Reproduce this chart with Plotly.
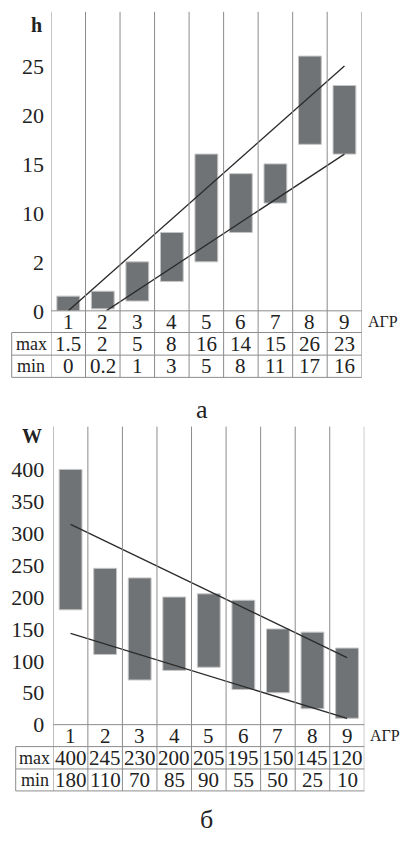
import plotly.graph_objects as go

# ---------------- data ----------------
groups = [1, 2, 3, 4, 5, 6, 7, 8, 9]
group_labels = ["1", "2", "3", "4", "5", "6", "7", "8", "9"]

h_max = [1.5, 2, 5, 8, 16, 14, 15, 26, 23]
h_min = [0, 0.2, 1, 3, 5, 8, 11, 17, 16]
h_max_txt = ["1.5", "2", "5", "8", "16", "14", "15", "26", "23"]
h_min_txt = ["0", "0.2", "1", "3", "5", "8", "11", "17", "16"]
h_tickvals = [0, 5, 10, 15, 20, 25]
h_ticktext = ["0", "2", "10", "15", "20", "25"]
h_trend_upper_x = [1, 9]
h_trend_upper_y = [0, 25]
h_trend_lower_x = [2.1, 9]
h_trend_lower_y = [0, 16]

w_max = [400, 245, 230, 200, 205, 195, 150, 145, 120]
w_min = [180, 110, 70, 85, 90, 55, 50, 25, 10]
w_tickvals = [0, 50, 100, 150, 200, 250, 300, 350, 400]
w_ticktext = ["0", "50", "100", "150", "200", "250", "300", "350", "400"]
w_trend_upper_x = [1, 9]
w_trend_upper_y = [314, 105]
w_trend_lower_x = [1, 9]
w_trend_lower_y = [143, 10]

# ---------------- layout helpers ----------------
W, H = 403, 843
def px(x):
    return x / W
def py(y):
    return 1 - y / H

SERIF = "Liberation Serif"
TXT = "#222222"
GRID = "#8c8c8c"
BAR = "#707375"
BAR_EDGE = "#c4c4c4"

fig = go.Figure()

fig.add_trace(go.Bar(x=groups, y=[a - b for a, b in zip(h_max, h_min)], base=h_min,
                     width=0.66, marker=dict(color=BAR, line=dict(color=BAR_EDGE, width=1)),
                     xaxis="x", yaxis="y", showlegend=False, hoverinfo="skip"))
fig.add_trace(go.Bar(x=groups, y=[a - b for a, b in zip(w_max, w_min)], base=w_min,
                     width=0.66, marker=dict(color=BAR, line=dict(color=BAR_EDGE, width=1)),
                     xaxis="x2", yaxis="y2", showlegend=False, hoverinfo="skip"))

for xs, ys, xa, ya in [(h_trend_upper_x, h_trend_upper_y, "x", "y"),
                       (h_trend_lower_x, h_trend_lower_y, "x", "y"),
                       (w_trend_upper_x, w_trend_upper_y, "x2", "y2"),
                       (w_trend_lower_x, w_trend_lower_y, "x2", "y2")]:
    fig.add_trace(go.Scatter(x=xs, y=ys, mode="lines", line=dict(color="#2a2a2a", width=1.3),
                             xaxis=xa, yaxis=ya, showlegend=False, hoverinfo="skip"))

panels = [
    dict(xa="x", ya="y", left=51, right=361.7, top=12, rows=[315.7, 337.7, 360.7, 383.3],
         tab_left=11.7, maxt=h_max_txt, mint=h_min_txt, label="h", label_xy=(36, 25),
         caption="а", cap_xy=(202, 416)),
    dict(xa="x2", ya="y2", left=53.3, right=364.3, top=433.3, rows=[736, 758.3, 781, 803.3],
         tab_left=15.7, maxt=[str(v) for v in w_max], mint=[str(v) for v in w_min], label="W",
         label_xy=(32, 443), caption="б", cap_xy=(207, 832)),
]

shapes = []
annotations = []
for p in panels:
    rows = p["rows"]
    xd1 = px(p["right"])
    for k in range(len(groups) + 1):
        xv = groups[0] - 0.5 + k
        shapes.append(dict(type="line", xref=p["xa"], yref="paper", x0=xv, x1=xv,
                           y0=py(p["top"]), y1=py(rows[3]), line=dict(color=GRID, width=1)))
    shapes.append(dict(type="line", xref="paper", yref="paper", x0=px(p["left"]), x1=xd1,
                       y0=py(rows[0]), y1=py(rows[0]), line=dict(color=GRID, width=1)))
    for r in rows[1:]:
        shapes.append(dict(type="line", xref="paper", yref="paper", x0=px(p["tab_left"]), x1=xd1,
                           y0=py(r), y1=py(r), line=dict(color=GRID, width=1)))
    shapes.append(dict(type="line", xref="paper", yref="paper", x0=px(p["tab_left"]), x1=px(p["tab_left"]),
                       y0=py(rows[1]), y1=py(rows[3]), line=dict(color=GRID, width=1)))
    yc = [py((rows[i] + rows[i + 1]) / 2) for i in range(3)]
    for g, gl, mx, mn in zip(groups, group_labels, p["maxt"], p["mint"]):
        for txt, yy in [(gl, yc[0]), (mx, yc[1]), (mn, yc[2])]:
            annotations.append(dict(x=g, y=yy, xref=p["xa"], yref="paper", text=txt, showarrow=False,
                                    font=dict(family=SERIF, size=21, color=TXT), borderpad=0,
                                    xanchor="center", yanchor="middle"))
    lc = px((p["tab_left"] + p["left"]) / 2)
    for txt, yy in [("max", yc[1]), ("min", yc[2])]:
        annotations.append(dict(x=lc, y=yy, xref="paper", yref="paper", text=txt, showarrow=False,
                                font=dict(family=SERIF, size=18, color=TXT), borderpad=0,
                                xanchor="center", yanchor="middle"))
    annotations.append(dict(x=px(p["right"] + 5), y=yc[0], xref="paper", yref="paper", text="АГР",
                            showarrow=False, font=dict(family=SERIF, size=16, color=TXT), borderpad=0,
                            xanchor="left", yanchor="middle"))
    annotations.append(dict(x=px(p["label_xy"][0]), y=py(p["label_xy"][1]), xref="paper", yref="paper",
                            text="<b>%s</b>" % p["label"], showarrow=False, borderpad=0,
                            font=dict(family=SERIF, size=20, color=TXT), xanchor="center", yanchor="middle"))
    annotations.append(dict(x=px(p["cap_xy"][0]), y=py(p["cap_xy"][1]), xref="paper", yref="paper",
                            text=p["caption"], showarrow=False, borderpad=0,
                            font=dict(family=SERIF, size=26, color=TXT), xanchor="center", yanchor="middle"))

axis_common = dict(showgrid=False, zeroline=False, showline=False, ticks="")
fig.update_layout(
    width=W, height=H, margin=dict(l=0, r=0, t=0, b=0),
    paper_bgcolor="white", plot_bgcolor="white", barmode="overlay",
    font=dict(family=SERIF, color=TXT),
    xaxis=dict(domain=[px(51), px(361.7)], range=[0.5, 9.5], showticklabels=False, anchor="y", **axis_common),
    yaxis=dict(domain=[py(315.7), py(12)], range=[0, (315.7 - 12) / 9.95], anchor="x",
               tickvals=h_tickvals, ticktext=h_ticktext, ticklabelstandoff=6,
               tickfont=dict(family=SERIF, size=22, color=TXT), **axis_common),
    xaxis2=dict(domain=[px(53.3), px(364.3)], range=[0.5, 9.5], showticklabels=False, anchor="y2", **axis_common),
    yaxis2=dict(domain=[py(736), py(433.3)], range=[0, (736 - 433.3) / 0.648], anchor="x2",
                tickvals=w_tickvals, ticktext=w_ticktext, ticklabelstandoff=8,
                tickfont=dict(family=SERIF, size=22, color=TXT), **axis_common),
    shapes=shapes, annotations=annotations,
)

fig.write_html("out.html", config={"displayModeBar": False},
               post_script="document.body.style.margin='0';document.body.style.overflow='hidden';")
